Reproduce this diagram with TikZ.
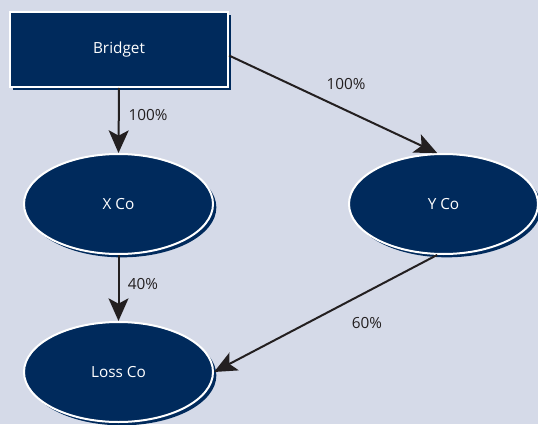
\documentclass[tikz,border=0pt]{standalone}
\usepackage{fontspec}
\setmainfont{Open Sans}
\usetikzlibrary{arrows.meta,shapes.geometric}
\definecolor{bgc}{HTML}{D5DAE8}
\definecolor{navy}{HTML}{002A5C}
\definecolor{arr}{HTML}{231F20}
\tikzset{
  boxnode/.style={rectangle,fill=navy,draw=white,line width=1.5pt,minimum width=218*0.75pt,minimum height=75*0.75pt,text=white,font=\fontsize{11.5}{13}\selectfont,
    preaction={fill=navy,draw=none,transform canvas={shift={(2.5pt,-2.5pt)}}}},
  ovalnode/.style={ellipse,fill=navy,draw=white,line width=1.5pt,minimum width=189*0.75pt,minimum height=100*0.75pt,inner sep=0pt,text=white,font=\fontsize{11.5}{13}\selectfont,
    preaction={fill=navy,draw=none,transform canvas={shift={(2.5pt,-2.5pt)}}}},
  link/.style={draw=arr,line width=1.5pt,-{Stealth[length=17pt,width=15pt,inset=4pt]}},
  pct/.style={font=\fontsize{11.5}{13}\selectfont,text=arr}
}
\begin{document}
\begin{tikzpicture}[x=0.75pt,y=-0.75pt]
\fill[bgc] (0,0) rectangle (538,424);
\useasboundingbox (0,0) rectangle (538,424);
\node[boxnode] (b) at (119,49.5) {Bridget};
\node[ovalnode] (x) at (118.5,204) {X Co};
\node[ovalnode] (y) at (443.5,204) {Y Co};
\node[ovalnode] (l) at (118.5,372) {Loss Co};
\coordinate (bs) at ([yshift=-6*0.75pt]b.east);
\draw[link] (bs) -- (y.97);
\draw[link] (b.south) -- (x.north);
\draw[link] (x.south) -- (l.north);
\draw[link] (y.-97) -- (l.east);
\node[pct] (p1) at (148,115) {100\%};
\node[pct] (p2) at (346,84) {100\%};
\node[pct] (p3) at (143,284) {40\%};
\node[pct] (p4) at (367,323) {60\%};
\end{tikzpicture}
\end{document}
